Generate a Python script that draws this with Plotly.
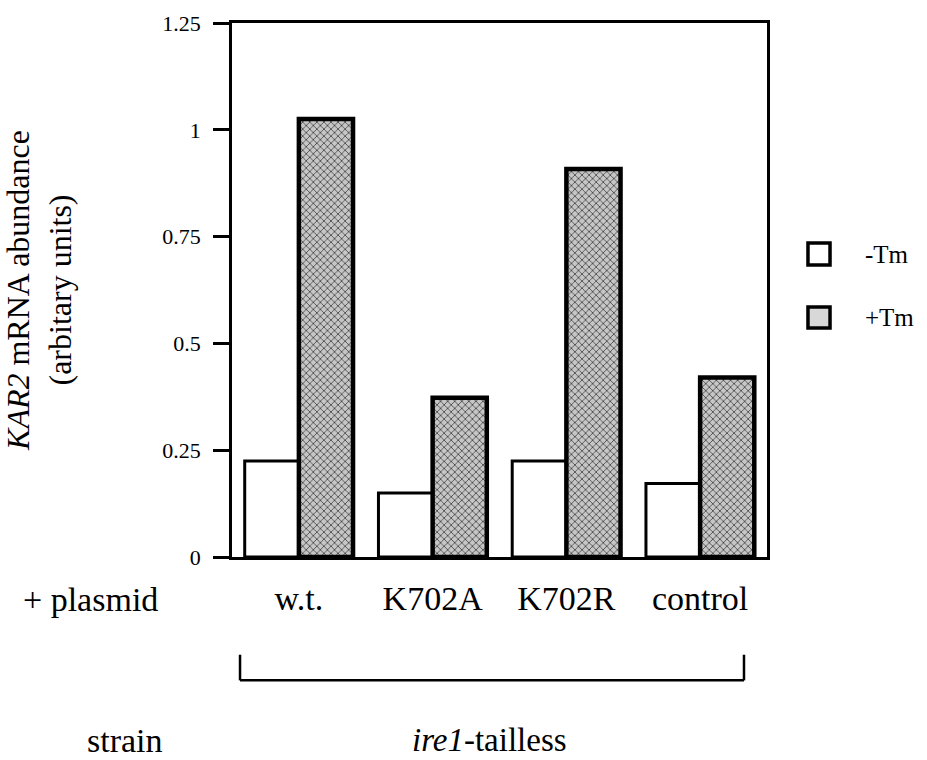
import plotly.graph_objects as go

categories = ["w.t.", "K702A", "K702R", "control"]
minus_tm = [0.225, 0.15, 0.225, 0.172]
plus_tm = [1.025, 0.373, 0.908, 0.42]
ytick_vals = [0, 0.25, 0.5, 0.75, 1, 1.25]
ytick_text = ["0", "0.25", "0.5", "0.75", "1", "1.25"]

SERIF = "Liberation Serif"

fig = go.Figure()
fig.add_trace(go.Bar(
    x=categories, y=minus_tm, name="-Tm",
    marker=dict(color="white", line=dict(color="black", width=3)),
    showlegend=False,
))
fig.add_trace(go.Bar(
    x=categories, y=plus_tm, name="+Tm",
    marker=dict(
        color="#bdbdbd",
        line=dict(color="black", width=4.5),
        pattern=dict(shape="x", fgcolor="#3a3a3a", bgcolor="#c6c6c6",
                     size=5, solidity=0.28, fillmode="replace"),
    ),
    showlegend=False,
))

fig.update_layout(
    width=927, height=760,
    margin=dict(l=232, r=160, t=23, b=203, autoexpand=False),
    paper_bgcolor="white", plot_bgcolor="white",
    barmode="group", bargap=0.19, bargroupgap=0,
    font=dict(family=SERIF, color="black"),
    xaxis=dict(
        showline=True, linecolor="black", linewidth=2.5, mirror=True,
        ticks="", showgrid=False, zeroline=False, automargin=False,
        tickfont=dict(family=SERIF, size=34, color="black"),
        ticklabelstandoff=9,
    ),
    yaxis=dict(
        range=[0, 1.25], tickvals=ytick_vals, ticktext=ytick_text,
        showline=True, linecolor="black", linewidth=2.5, mirror=True,
        ticks="outside", ticklen=16, tickwidth=2.5, tickcolor="black",
        showgrid=False, zeroline=False, automargin=False,
        tickfont=dict(family=SERIF, size=22, color="black"),
        ticklabelstandoff=8,
        title=dict(text="<i>KAR2</i> mRNA abundance<br>(arbitary units)",
                   font=dict(family=SERIF, size=32, color="black"), standoff=90),
    ),
)

# bracket under the categories
bx0, bx1, by0, by1 = 0.015, 0.957, -0.183, -0.231
for (x0, y0, x1, y1) in [(bx0, by0, bx0, by1), (bx0, by1, bx1, by1), (bx1, by1, bx1, by0)]:
    fig.add_shape(type="line", xref="paper", yref="paper", x0=x0, y0=y0, x1=x1, y1=y1,
                  line=dict(color="black", width=2.5))

# legend boxes
fig.add_shape(type="rect", xref="paper", yref="paper", x0=1.0766, x1=1.1178, y0=0.547, y1=0.588,
              line=dict(color="black", width=3.5), fillcolor="white")
fig.add_shape(type="rect", xref="paper", yref="paper", x0=1.0766, x1=1.1178, y0=0.429, y1=0.468,
              line=dict(color="black", width=3.5), fillcolor="#d8d8d8")

annos = [
    dict(text="-Tm", x=1.179, y=0.567, xanchor="left", yanchor="middle", size=25),
    dict(text="+Tm", x=1.179, y=0.4476, xanchor="left", yanchor="middle", size=25),
    dict(text="+ plasmid", x=-0.265, y=-0.0805, xanchor="center", yanchor="middle", size=34),
    dict(text="strain", x=-0.2, y=-0.343, xanchor="center", yanchor="middle", size=34),
    dict(text="<i>ire1</i>-tailless", x=0.482, y=-0.343, xanchor="center", yanchor="middle", size=33),
]
for a in annos:
    fig.add_annotation(text=a["text"], x=a["x"], y=a["y"], xref="paper", yref="paper",
                       xanchor=a["xanchor"], yanchor=a["yanchor"], showarrow=False,
                       font=dict(family=SERIF, size=a["size"], color="black"))

fig.write_html("out.html")
